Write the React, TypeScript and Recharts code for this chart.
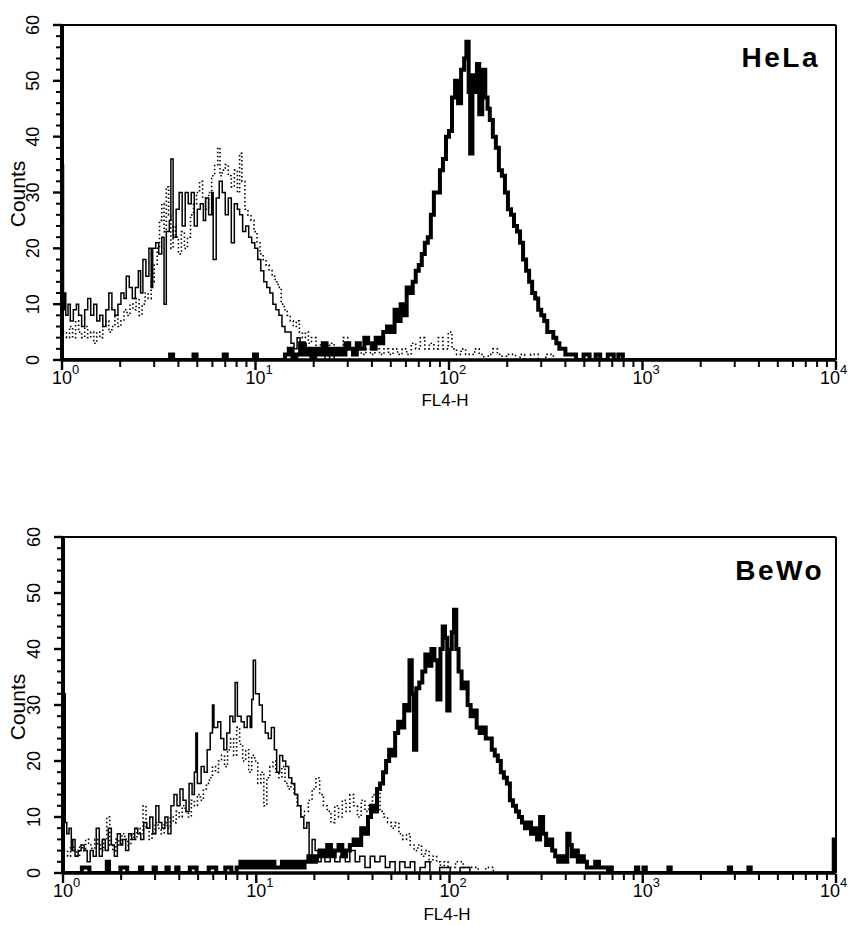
import React from 'react';
import { LineChart, Line, XAxis, YAxis, ReferenceLine } from 'recharts';

const FONT = '"Liberation Sans", Arial, Helvetica, sans-serif';

// x positions are log-amplifier channels: 256 channels per decade, 0 = 10^0 ... 1024 = 10^4
const decadeChannels = [0, 256, 512, 768, 1024];
const decadeExponents = ['0', '1', '2', '3', '4'];
const minorOffsets = [77, 122, 154, 179, 199, 216, 231, 244];
const countMajor = [0, 10, 20, 30, 40, 50, 60];
const countMinor = [2, 4, 6, 8, 12, 14, 16, 18, 22, 24, 26, 28, 32, 34, 36, 38, 42, 44, 46, 48, 52, 54, 56, 58];

const panelNames = ['HeLa', 'BeWo'];
const axisTitleX = 'FL4-H';
const axisTitleY = 'Counts';

// ---------- HeLa ----------
const helaThin: number[][] = [[0,35],[2,9],[3,12],[5,8],[8,10],[11,7],[15,9],[19,10],[22,8],[26,6],[30,9],[34,11],[38,8],[42,10],[46,7],[50,8],[54,6],[58,9],[62,12],[66,9],[70,8],[74,10],[78,12],[82,11],[85,15],[89,13],[93,11],[97,13],[101,16],[104,12],[107,18],[111,15],[115,20],[118,13],[120,20],[124,21],[128,19],[132,22],[135,10],[138,23],[142,25],[144,36],[147,22],[151,27],[155,30],[159,24],[163,30],[167,28],[171,30],[175,24],[179,27],[183,28],[187,25],[190,29],[194,26],[198,30],[200,18],[204,29],[208,32],[212,30],[216,26],[220,29],[224,21],[228,28],[232,27],[235,26],[239,23],[243,24],[247,22],[251,21],[255,20],[259,18],[263,16],[267,14],[271,13],[275,12],[279,10],[283,9],[287,8],[291,6],[295,5],[299,5],[303,3],[307,2],[311,4],[315,1],[319,3],[323,2],[328,1],[335,2],[341,1],[348,0],[354,1],[360,0],[380,0]];
const helaDotted: number[][] = [[1,5],[2,5],[6,4],[10,6],[14,4],[18,7],[22,5],[26,4],[30,6],[34,4],[38,5],[42,3],[46,5],[50,4],[54,6],[58,7],[62,5],[66,6],[70,8],[74,6],[78,7],[82,9],[86,8],[90,10],[94,9],[98,11],[102,8],[106,10],[110,12],[114,11],[118,14],[122,17],[126,20],[129,25],[132,28],[135,23],[138,31],[141,26],[144,20],[147,24],[150,22],[154,19],[158,23],[162,20],[166,22],[170,26],[174,28],[178,30],[182,32],[186,29],[190,27],[194,30],[198,33],[202,35],[206,38],[209,33],[212,34],[216,35],[220,33],[224,31],[228,34],[232,30],[235,37],[238,32],[242,27],[246,26],[250,25],[254,23],[258,21],[262,19],[266,18],[270,17],[274,16],[278,15],[282,14],[286,13],[290,10],[294,9],[298,8],[302,7],[306,6],[310,7],[314,5],[318,4],[322,5],[326,3],[330,4],[336,2],[342,3],[348,2],[354,3],[360,1],[366,2],[372,4],[378,2],[384,1],[390,2],[396,1],[402,2],[408,1],[414,2],[420,1],[426,2],[432,1],[438,2],[444,1],[450,2],[456,1],[462,3],[468,2],[474,4],[480,2],[486,3],[492,2],[498,4],[504,2],[511,5],[516,2],[522,1],[528,2],[534,1],[540,1],[546,2],[552,1],[558,0],[564,1],[570,2],[576,1],[582,0],[588,1],[594,1],[600,0],[606,1],[612,0],[620,1],[630,0],[640,1],[650,0]];
const helaThick: number[][] = [[0,0],[141,0],[143,1],[147,0],[172,0],[174,1],[178,0],[212,0],[214,1],[218,0],[252,0],[254,1],[258,0],[290,0],[295,1],[300,2],[305,0],[310,1],[315,3],[320,1],[325,2],[330,0],[335,2],[340,1],[345,3],[350,1],[355,2],[360,1],[365,2],[370,1],[375,3],[380,2],[385,1],[390,3],[394,2],[400,4],[405,3],[410,2],[415,4],[420,3],[425,5],[430,6],[435,5],[440,9],[444,7],[448,10],[452,8],[456,13],[460,12],[464,14],[468,16],[472,17],[476,19],[480,21],[484,22],[488,26],[492,30],[496,30],[500,34],[504,36],[508,40],[512,41],[516,47],[520,50],[524,46],[528,52],[532,54],[535,57],[538,48],[540,37],[543,51],[546,48],[549,53],[552,44],[556,52],[560,47],[563,45],[566,43],[570,40],[574,38],[578,34],[582,33],[586,30],[590,27],[594,26],[598,24],[602,23],[606,21],[610,18],[614,16],[618,14],[622,12],[626,11],[630,9],[634,8],[638,7],[642,5],[646,5],[650,4],[654,3],[658,2],[662,2],[666,1],[672,1],[680,0],[690,1],[698,0],[706,1],[712,0],[722,1],[730,0],[736,1],[742,0],[1024,0]];

// ---------- BeWo ----------
const bewoThin: number[][] = [[0,32],[3,9],[5,7],[8,8],[11,4],[13,6],[16,3],[20,4],[24,5],[28,4],[32,2],[36,4],[40,3],[44,8],[48,3],[52,6],[56,4],[60,8],[64,5],[68,3],[72,7],[76,5],[79,6],[83,4],[87,7],[91,6],[95,8],[99,7],[103,6],[107,9],[111,8],[115,10],[119,7],[123,12],[127,9],[131,8],[135,10],[139,7],[143,12],[147,14],[151,12],[155,15],[159,13],[163,11],[167,16],[171,14],[174,18],[176,25],[178,16],[183,19],[187,18],[191,22],[195,25],[198,30],[200,26],[205,27],[209,24],[213,22],[217,25],[221,28],[225,27],[228,34],[231,28],[236,27],[240,26],[244,28],[248,26],[250,31],[252,38],[255,32],[260,30],[264,27],[268,25],[272,24],[276,26],[280,22],[283,18],[287,21],[291,20],[295,19],[299,17],[303,16],[307,14],[311,12],[315,10],[319,8],[323,9],[326,3],[330,6],[334,4],[338,2],[342,3],[347,2],[354,4],[360,2],[367,3],[374,2],[380,4],[387,2],[393,3],[400,1],[407,3],[413,2],[420,3],[427,1],[433,2],[440,0],[446,2],[453,1],[460,2],[466,0],[473,1],[480,2],[486,0],[499,1],[513,0],[526,1],[539,0]];
const bewoDotted: number[][] = [[1,4],[6,3],[10,5],[14,4],[18,3],[22,5],[26,4],[30,6],[34,5],[38,4],[42,6],[46,5],[50,4],[54,6],[58,10],[62,5],[66,4],[70,6],[74,5],[78,7],[82,6],[86,5],[90,7],[94,6],[98,8],[102,7],[106,12],[110,8],[114,6],[118,7],[122,9],[126,8],[130,7],[134,9],[138,8],[142,10],[146,9],[150,11],[154,10],[158,12],[162,11],[166,10],[170,13],[174,12],[178,14],[182,13],[186,15],[190,16],[194,17],[198,19],[202,18],[206,20],[210,21],[214,19],[218,22],[222,24],[226,21],[230,26],[234,23],[238,20],[242,22],[246,18],[250,21],[254,20],[258,16],[262,18],[266,12],[270,17],[274,19],[278,20],[282,18],[286,17],[290,19],[294,16],[298,15],[302,16],[306,14],[310,12],[315,10],[320,11],[325,13],[330,15],[335,17],[340,14],[345,12],[350,11],[355,9],[360,12],[365,10],[370,13],[375,11],[380,14],[385,12],[390,10],[395,13],[400,11],[405,12],[410,14],[415,15],[420,11],[425,10],[430,9],[435,8],[440,9],[445,7],[450,6],[455,7],[460,5],[465,4],[470,5],[475,3],[480,4],[485,2],[490,3],[495,2],[500,1],[505,2],[510,1],[520,2],[530,1],[540,1],[550,0],[560,1],[570,0]];
const bewoThick: number[][] = [[0,0],[22,0],[25,1],[32,1],[35,0],[56,0],[58,2],[61,0],[73,0],[76,1],[82,1],[85,0],[100,0],[102,1],[105,0],[118,0],[120,1],[123,0],[135,0],[137,1],[140,0],[148,0],[150,1],[153,0],[165,0],[168,1],[174,1],[177,0],[190,0],[193,1],[200,1],[203,0],[212,0],[215,1],[220,1],[223,0],[228,0],[230,1],[235,2],[238,1],[242,2],[246,1],[250,2],[254,1],[258,2],[262,1],[266,2],[270,1],[275,2],[280,1],[285,1],[290,2],[295,1],[300,2],[305,1],[310,2],[315,1],[320,2],[325,3],[330,2],[335,3],[340,4],[345,3],[350,5],[355,3],[360,4],[365,5],[370,3],[375,4],[380,5],[385,6],[390,5],[395,8],[400,7],[404,10],[408,12],[412,11],[416,15],[420,16],[424,18],[428,20],[432,22],[436,21],[440,25],[444,27],[448,26],[452,30],[456,29],[459,38],[462,32],[465,22],[468,33],[472,34],[476,36],[480,39],[484,37],[488,40],[492,38],[496,31],[500,40],[503,44],[506,42],[509,29],[512,40],[515,43],[518,47],[521,40],[524,36],[528,33],[532,34],[536,30],[540,28],[544,29],[548,26],[552,25],[556,26],[560,24],[564,24],[568,22],[572,21],[576,20],[580,18],[584,17],[588,16],[592,13],[596,12],[600,11],[604,10],[608,9],[612,8],[616,9],[620,7],[624,8],[628,6],[632,10],[636,7],[640,5],[644,6],[648,4],[652,3],[656,2],[660,3],[664,2],[668,7],[671,5],[674,3],[678,4],[682,2],[686,3],[690,2],[694,1],[700,1],[705,2],[710,1],[718,1],[722,0],[724,1],[727,0],[757,0],[759,1],[762,0],[767,0],[769,1],[772,0],[800,0],[802,1],[805,0],[880,0],[882,1],[885,0],[906,0],[908,1],[911,0],[1020,0],[1021,6],[1024,6]];

const xTicks: number[] = [];
decadeChannels.forEach((c, i) => {
  xTicks.push(c);
  if (i < decadeChannels.length - 1) minorOffsets.forEach((o) => xTicks.push(c + o));
});
const yTicks = [...countMajor, ...countMinor].sort((a, b) => a - b);

const toPoints = (arr: number[][]) => arr.map(([x, y]) => ({ x, y }));

function XTick(props: any) {
  const { x, y, payload } = props;
  const idx = decadeChannels.indexOf(payload.value);
  if (idx >= 0) {
    const last = idx === decadeChannels.length - 1;
    const cx = last ? x - 6 : x;
    return (
      <g>
        <line x1={x} x2={x} y1={y + 1} y2={y + 10} stroke="#000" strokeWidth={2.4} />
        <text x={cx} y={y + 24} textAnchor="middle" fontSize={18} fontFamily={FONT} fill="#000">10</text>
        <text x={cx + 10} y={y + 14} textAnchor="start" fontSize={13} fontFamily={FONT} fill="#000">{decadeExponents[idx]}</text>
      </g>
    );
  }
  return <line x1={x} x2={x} y1={y + 1} y2={y + 7} stroke="#000" strokeWidth={2} />;
}

function YTick(props: any) {
  const { x, y, payload } = props;
  const v = payload.value;
  if (countMajor.includes(v)) {
    const cx = x - 23;
    return (
      <g>
        <line x1={x} x2={x - 9} y1={y} y2={y} stroke="#000" strokeWidth={2.4} />
        <text x={cx} y={y} transform={`rotate(-90 ${cx} ${y})`} textAnchor="middle" fontSize={18} fontFamily={FONT} fill="#000">
          {String(v)}
        </text>
      </g>
    );
  }
  return <line x1={x} x2={x - 6} y1={y} y2={y} stroke="#000" strokeWidth={2} />;
}

type PanelProps = {
  top: number;
  margin: { top: number; right: number; bottom: number; left: number };
  thin: number[][];
  dotted: number[][];
  thick: number[][];
};

function Panel({ top, margin, thin, dotted, thick }: PanelProps) {
  return (
    <div style={{ position: 'absolute', left: 0, top, width: 850, height: 460 }}>
      <LineChart width={850} height={460} margin={margin}>
        <XAxis type="number" dataKey="x" domain={[0, 1024]} ticks={xTicks} interval={0} tick={XTick} tickLine={false} tickSize={0} tickMargin={0} axisLine={{ stroke: '#000', strokeWidth: 3.5 }} height={40} allowDataOverflow />
        <YAxis type="number" dataKey="y" domain={[0, 60]} ticks={yTicks} interval={0} tick={YTick} tickLine={false} tickSize={0} tickMargin={0} axisLine={{ stroke: '#000', strokeWidth: 4 }} width={40} allowDataOverflow />
        <ReferenceLine y={60} stroke="#000" strokeWidth={2} />
        <ReferenceLine x={1024} stroke="#000" strokeWidth={2} />
        <Line data={toPoints(dotted)} dataKey="y" type="stepAfter" stroke="#000" strokeWidth={1.6} strokeDasharray="1.5 2.5" dot={false} isAnimationActive={false} />
        <Line data={toPoints(thin)} dataKey="y" type="stepAfter" stroke="#000" strokeWidth={1.5} dot={false} isAnimationActive={false} />
        <Line data={toPoints(thick)} dataKey="y" type="stepAfter" stroke="#000" strokeWidth={4} dot={false} isAnimationActive={false} />
      </LineChart>
    </div>
  );
}

export default function App() {
  return (
    <div style={{ position: 'absolute', left: 0, top: 0, width: 850, height: 925, background: '#fff' }}>
      <Panel top={0} margin={{ top: 25, right: 14, left: 22, bottom: 60 }} thin={helaThin} dotted={helaDotted} thick={helaThick} />
      <Panel top={460} margin={{ top: 77, right: 14, left: 23, bottom: 7 }} thin={bewoThin} dotted={bewoDotted} thick={bewoThick} />
      <svg width={850} height={925} style={{ position: 'absolute', left: 0, top: 0, pointerEvents: 'none' }} fontFamily={FONT}>
        <text x={25} y={194} transform="rotate(-90 25 194)" textAnchor="middle" fontSize={21} fill="#000">{axisTitleY}</text>
        <text x={25} y={707} transform="rotate(-90 25 707)" textAnchor="middle" fontSize={21} fill="#000">{axisTitleY}</text>
        <text x={445} y={406} textAnchor="middle" fontSize={17} fill="#000">{axisTitleX}</text>
        <text x={447} y={920} textAnchor="middle" fontSize={17} fill="#000">{axisTitleX}</text>
        <text x={820} y={67} textAnchor="end" fontSize={28} fontWeight="bold" letterSpacing={2.5} fill="#000">{panelNames[0]}</text>
        <text x={824} y={580} textAnchor="end" fontSize={28} fontWeight="bold" letterSpacing={2.5} fill="#000">{panelNames[1]}</text>
      </svg>
    </div>
  );
}
